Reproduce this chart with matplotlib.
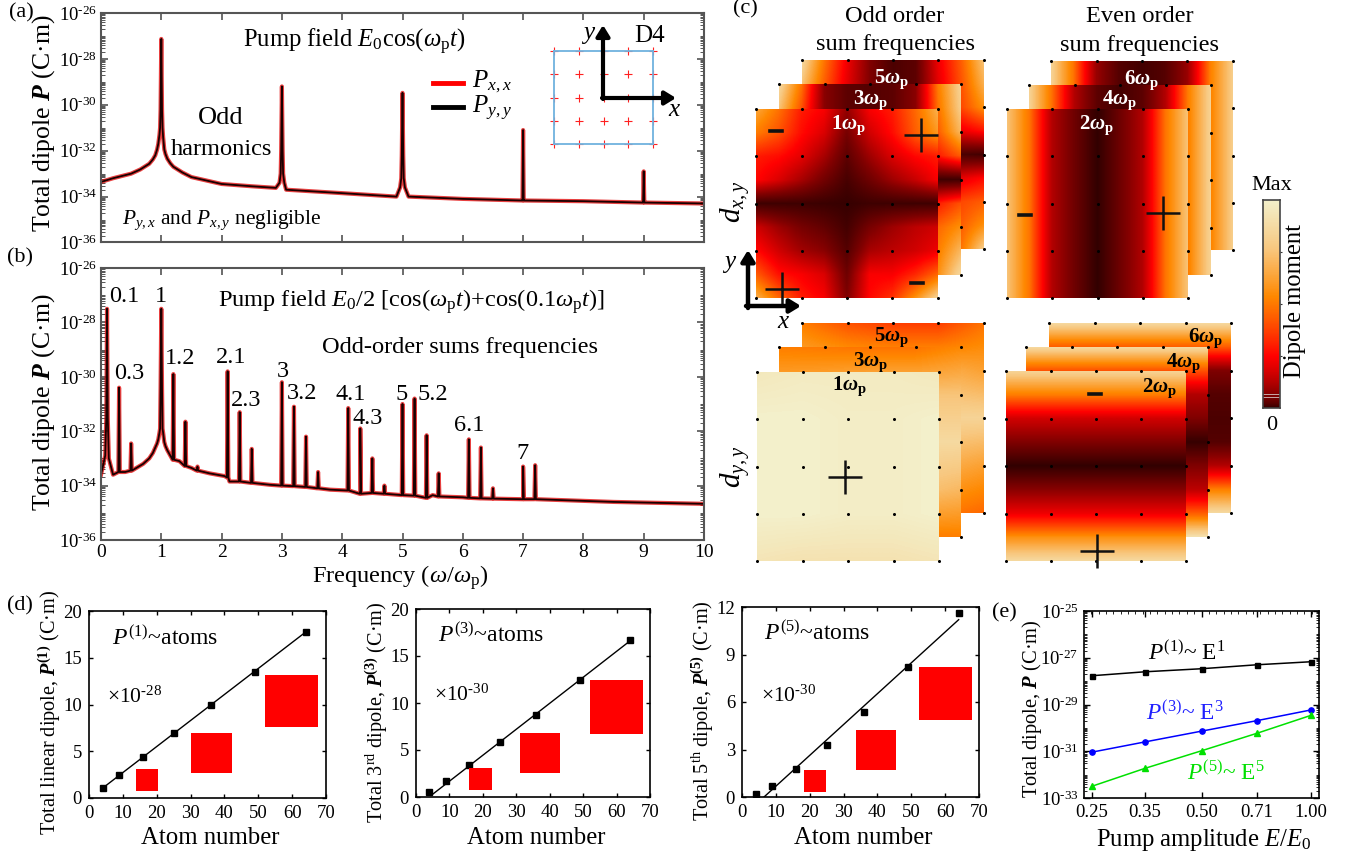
import numpy as np
import matplotlib
matplotlib.use("Agg")
import matplotlib.pyplot as plt
from matplotlib.colors import LinearSegmentedColormap
from matplotlib.patches import Rectangle

plt.rcParams.update({
    'font.family': ['Liberation Serif', 'DejaVu Serif'],
    'mathtext.fontset': 'custom',
    'mathtext.rm': 'Liberation Serif',
    'mathtext.it': 'Liberation Serif:italic',
    'mathtext.bf': 'Liberation Serif:bold',
    'mathtext.bfit': 'Liberation Serif:italic:bold',
    'mathtext.default': 'regular',
})

W, H = 1352, 856

# ---------- panel (a): log10 of the dipole spectrum ----------
a_base_f = [0, .2, .35, .5, .65, .8, .86, .9, .93, .95, .97, .98, 1.02, 1.03, 1.05, 1.07, 1.1, 1.15, 1.2, 1.35, 1.5,
            2, 2.5, 2.9, 2.96, 2.98, 3.02, 3.04, 3.07, 4, 4.9, 4.96, 4.98, 5.02, 5.04, 5.1, 6, 6.99, 7.01, 8, 8.99, 9.01, 10]
a_base_p = [-33.36, -33.2, -33.1, -33.0, -32.82, -32.57, -32.38, -32.2, -31.95, -31.7, -31.3, -31.0, -31.0, -31.4,
            -31.95, -32.15, -32.35, -32.55, -32.7, -32.95, -33.15, -33.45, -33.55, -33.62, -33.4, -33.0, -33.0, -33.4,
            -33.7, -33.85, -34.0, -33.6, -33.2, -33.2, -33.6, -34.0, -34.1, -34.17, -34.17, -34.2, -34.26,
            -34.26, -34.3]
a_peak_f = [1, 3, 5, 7, 9]
a_peak_top = [-27.13, -29.2, -29.48, -31.1, -32.9]
a_peak_foot = [-30.2, -32.0, -32.2, -34.17, -34.26]

# ---------- panel (b) ----------
b_base_f = [0, .03, .07, .13, .2, .4, .7, .8, .86, .9, .93, .95, .97, .98, 1.02, 1.03, 1.05, 1.07, 1.1, 1.3, 1.5, 1.8,
            2.05, 2.13, 2.2, 2.8, 3.8, 4.3, 5.5, 6, 7, 8.5, 10]
b_base_p = [-33.6, -33.3, -32.9, -33.0, -33.6, -33.5, -33.2, -33.0, -32.8, -32.6, -32.45, -32.3, -32.05, -31.9,
            -31.9, -32.05, -32.4, -32.55, -32.7, -33.1, -33.35, -33.55, -33.65, -33.85, -33.85, -33.97, -34.15,
            -34.2, -34.35, -34.43, -34.5, -34.6, -34.67]
b_peak_f = [.1, .3, .5, 1, 1.2, 1.4, 1.6, 2.1, 2.3, 2.5, 3, 3.2, 3.4, 3.6, 4.1, 4.3, 4.5, 4.7, 5, 5.2, 5.4, 5.6,
            6.1, 6.3, 6.5, 7, 7.2]
b_peak_top = [-27.5, -30.4, -32.45, -27.5, -29.9, -31.65, -33.3, -29.8, -31.3, -32.65, -30.2, -31.1, -32.2, -33.5,
              -31.15, -31.9, -33.0, -34.0, -31.0, -30.8, -32.15, -33.55, -32.3, -32.6, -34.1, -33.3, -33.25]
b_peak_foot = [-31.5, -33.5, -33.45, -30.4, -33.05, -33.28, -33.45, -33.7, -33.85, -33.9, -34.0, -34.02, -34.05,
               -34.1, -34.18, -34.3, -34.27, -34.3, -34.35, -34.37, -34.45, -34.4, -34.45, -34.47, -34.48, -34.5, -34.5]
b_peak_labels = ['0.1', '0.3', '1', '1.2', '2.1', '2.3', '3', '3.2', '4.1', '4.3', '5', '5.2', '6.1', '7']
b_label_px = [(124, 296), (129, 373), (161, 297), (180, 358), (231, 357), (246, 400), (283, 371), (302, 393),
              (351, 394), (368, 418), (402, 394), (433, 394), (469, 425), (523, 453)]

# ---------- panels (d) ----------
atoms = [4, 9, 16, 25, 36, 49, 64]
dipole_1 = [1.1, 2.45, 4.4, 6.9, 9.9, 13.5, 17.8]
dipole_3 = [0.5, 1.7, 3.4, 5.8, 8.7, 12.4, 16.7]
dipole_5 = [0.17, 0.7, 1.75, 3.3, 5.4, 8.2, 11.65]
fit_1 = ([4, 64], [1.05, 17.75])
fit_3 = ([5, 64], [0.3, 16.6])
fit_5 = ([6.5, 64], [0, 11.2])
squares_1 = [(13.95, 20.35, .78, 3.13), (30.2, 42.1, 2.7, 6.95), (51.9, 67.5, 7.55, 13.2)]
squares_3 = [(16, 22.6, .75, 3.1), (31, 43, 2.55, 6.8), (52.2, 68, 6.75, 12.4)]
squares_5 = [(18.2, 24.9, .3, 1.69), (33.7, 45.5, 1.69, 4.23), (52.4, 68, 4.86, 8.2)]

# ---------- panel (e) ----------
amp = [0.25, 0.35, 0.50, 0.71, 1.00]
amp_labels = ['0.25', '0.35', '0.50', '0.71', '1.00']
log_e1 = [-27.77, -27.6, -27.47, -27.3, -27.17]
log_e3 = [-31.04, -30.6, -30.14, -29.69, -29.23]
log_e5 = [-32.5, -31.73, -30.98, -30.23, -29.46]

# ---------- panel (c): normalised dipole maps on the atom grid ----------
odd_xy_1 = [[.78, .66, .50, .44, .24, .44, .50, .64, .80],
            [.68, .60, .47, .38, .18, .36, .47, .62, .74],
            [.50, .47, .40, .28, .12, .26, .38, .46, .50],
            [.46, .38, .28, .17, .07, .16, .26, .34, .44],
            [.05, .05, .05, .04, .03, .05, .05, .05, .05],
            [.36, .26, .18, .13, .06, .18, .26, .32, .36],
            [.47, .36, .27, .22, .10, .28, .32, .36, .42],
            [.62, .48, .44, .38, .16, .44, .44, .52, .64],
            [.80, .64, .50, .44, .20, .46, .54, .72, .90]]
odd_xy_3 = [[.92, .66, .22, .12, .10, .12, .22, .68, .90],
            [.85, .60, .22, .12, .10, .12, .22, .66, .88],
            [.70, .50, .20, .12, .10, .12, .25, .62, .82],
            [.50, .35, .20, .10, .08, .12, .25, .50, .62],
            [.10, .10, .08, .06, .05, .05, .05, .05, .05],
            [.50, .35, .20, .10, .08, .15, .28, .50, .60],
            [.70, .50, .25, .15, .10, .20, .35, .64, .72],
            [.85, .60, .35, .20, .10, .25, .42, .68, .82],
            [.92, .70, .40, .20, .10, .30, .50, .72, .92]]
odd_xy_5 = [[.92, .66, .42, .20, .08, .12, .42, .62, .85],
            [.85, .62, .40, .20, .08, .12, .40, .60, .80],
            [.70, .55, .35, .15, .08, .12, .32, .58, .72],
            [.50, .40, .20, .10, .08, .10, .20, .42, .48],
            [.10, .08, .06, .05, .04, .05, .06, .08, .06],
            [.50, .40, .20, .10, .08, .10, .22, .40, .46],
            [.70, .55, .35, .20, .10, .15, .32, .58, .62],
            [.82, .62, .40, .20, .10, .20, .42, .62, .72],
            [.92, .66, .42, .20, .10, .20, .42, .66, .88]]
even_xy_2 = [.85, .66, .30, .16, .02, .16, .30, .66, .85]
even_xy_4 = [.90, .66, .30, .12, .06, .12, .30, .68, .90]
even_xy_6 = [.90, .66, .25, .10, .06, .10, .25, .68, .88]
odd_yy_1 = [[.97, .98, .98, .98, .97], [1, 1, .99, .99, 1], [1, 1, .99, .99, 1],
            [1, 1, .99, .99, 1], [.96, .95, .95, .95, .96]]
odd_yy_3 = [[.68, .67, .66, .66, .70], [.80, .82, .85, .85, .85], [.90, .92, .92, .92, .92],
            [.80, .82, .85, .85, .82], [.66, .66, .68, .68, .68]]
odd_yy_5 = [[.68, .60, .56, .56, .66], [.80, .80, .80, .80, .76], [.90, .90, .90, .90, .90],
            [.80, .80, .80, .80, .76], [.66, .66, .68, .68, .64]]
even_yy_2 = [.90, .68, .36, .20, .02, .22, .42, .72, .92]
even_yy_4 = [.92, .60, .30, .20, .03, .20, .32, .62, .95]
even_yy_6 = [.92, .62, .20, .10, .08, .10, .30, .68, .92]

cmap = LinearSegmentedColormap.from_list('dipole', [
    (0, '#2a0000'), (.2, '#800000'), (.45, '#ff0000'), (.7, '#ff8800'), (.86, '#f8c880'), (1, '#f3f0cb')])

fig = plt.figure(figsize=(W / 100, H / 100), dpi=100)


def axpx(l, t, r, b, **kw):
    return fig.add_axes([l / W, 1 - b / H, (r - l) / W, (b - t) / H], **kw)


ov = axpx(0, 0, W, H)
ov.set_xlim(0, W)
ov.set_ylim(H, 0)
ov.axis('off')
ov.set_zorder(100)
ov.patch.set_alpha(0)


def T(x, y, s, size=16, ha='center', va='center', **kw):
    return ov.text(x, y, s, fontsize=size, ha=ha, va=va, **kw)


def sup10(e):
    return '10$^{\\text{-}%d}$' % e


def spectrum(base_f, base_p, pf, ptop, pfoot, delta=.012):
    pts = list(zip(base_f, base_p))
    for f, t, ft in zip(pf, ptop, pfoot):
        pts += [(f - delta, ft), (f, t), (f + delta, ft)]
    pts.sort()
    return [p[0] for p in pts], 10.0 ** np.array([p[1] for p in pts])


def style_spec(ax):
    ax.set_yscale('log')
    ax.set_xlim(0, 10)
    ax.set_ylim(1e-36, 1e-26)
    ax.set_xticks(range(11))
    ex = np.arange(-36, -25, 2)
    ax.set_yticks(10.0 ** ex)
    ax.set_yticklabels([sup10(-e) for e in ex], fontsize=13.5)
    mt = [s * 10.0 ** k for k in range(-36, -26) for s in range(2, 10)] + [10.0 ** k for k in range(-35, -26, 2)]
    ax.set_yticks(mt, minor=True)
    ax.set_yticklabels([], minor=True)
    ax.tick_params(which='major', direction='in', top=True, right=True, length=5, width=1.1, color='#444444', pad=3)
    ax.tick_params(which='minor', direction='in', right=True, length=3, width=.7, color='#555555')
    ax.tick_params(axis='x', labelsize=14)
    for s in ax.spines.values():
        s.set_linewidth(1.5)
        s.set_color('#555555')


axa = axpx(101, 13, 704, 242.5)
fa, pa = spectrum(a_base_f, a_base_p, a_peak_f, a_peak_top, a_peak_foot)
axa.plot(fa, pa, color='#e00000', lw=3.0, alpha=.75)
axa.plot(fa, pa, color='#1a0000', lw=1.3)
style_spec(axa)
axa.set_xticklabels([])

axb = axpx(101, 268, 704, 540)
fb, pb = spectrum(b_base_f, b_base_p, b_peak_f, b_peak_top, b_peak_foot)
axb.plot(fb, pb, color='#e00000', lw=3.0, alpha=.75)
axb.plot(fb, pb, color='#1a0000', lw=1.3)
style_spec(axb)

# inset of panel (a)
ins = axpx(554, 51, 653, 144)
ins.set_zorder(5)
gx, gy = np.meshgrid(np.arange(5), np.arange(5))
ins.plot(gx.ravel(), gy.ravel(), '+', color='#ff2020', ms=6, mew=.8, clip_on=False)
ins.set_xlim(0, 4)
ins.set_ylim(0, 4)
ins.set_xticks([])
ins.set_yticks([])
for s in ins.spines.values():
    s.set_color('#6fb2de')
    s.set_linewidth(1.3)

arrow = dict(arrowstyle='-|>,head_width=.4,head_length=.65', color='black', lw=3, shrinkA=0, shrinkB=0)
ov.annotate('', xy=(603, 25), xytext=(603, 99), arrowprops=arrow)
ov.annotate('', xy=(676, 98), xytext=(602, 98), arrowprops=arrow)
T(589, 33, 'y', 18, style='italic')
T(674, 110, 'x', 18, style='italic')
T(650, 36, 'D4', 18)

ov.plot([433, 463], [83, 83], color='#ff0000', lw=3.5)
ov.plot([433, 463], [107, 107], color='black', lw=3.5)
T(472, 82, '$\\mathit{P}_{\\mathit{x,x}}$', 18, ha='left')
T(472, 108, '$\\mathit{P}_{\\mathit{y,y}}$', 18, ha='left')

T(21, 13, '(a)', 16)
T(20, 258, '(b)', 16)
T(745, 9, '(c)', 16)
T(20, 606, '(d)', 16)
T(1004, 613, '(e)', 16)

ylab = 'Total dipole $\\mathbfit{P}$ (C·m)'
T(44, 123, ylab, 18.5, rotation=90)
T(44, 402, ylab, 18.5, rotation=90)
T(354, 42, 'Pump field $\\mathit{E}_{0}$cos($\\mathit{\\omega}_{p}\\mathit{t}$)', 17.7)
T(221, 118, 'Odd', 19)
T(221, 149, 'harmonics', 17.6)
T(222, 220, '$\\mathit{P}_{\\mathit{y,x}}$ and $\\mathit{P}_{\\mathit{x,y}}$ negligible', 15.4)
T(411, 302, 'Pump field $\\mathit{E}_{0}$/2 [cos($\\mathit{\\omega}_{p}\\mathit{t}$)+cos(0.1$\\mathit{\\omega}_{p}\\mathit{t}$)]', 17.6)
T(460, 347, 'Odd-order sums frequencies', 17.6)
for lab, (x, y) in zip(b_peak_labels, b_label_px):
    T(x, y, lab, 17.5)
T(400, 578, 'Frequency ($\\mathit{\\omega}$/$\\mathit{\\omega}_{p}$)', 17.6)


# ---------- heat maps ----------
def heat(box, values, z):
    arr = np.array(values, dtype=float)
    if arr.ndim == 1:
        arr = np.tile(arr, (9, 1)) if box[4] == 'x' else np.tile(arr[:, None], (1, 9))
    ax = axpx(box[0], box[1], box[2], box[3])
    ax.set_zorder(z)
    r, c = arr.shape
    ax.imshow(arr, cmap=cmap, vmin=0, vmax=1, interpolation='bilinear', aspect='auto',
              extent=[-.5 / (c - 1), 1 + .5 / (c - 1), 1 + .5 / (r - 1), -.5 / (r - 1)])
    ax.set_xlim(0, 1)
    ax.set_ylim(1, 0)
    ax.axis('off')
    dx, dy = np.meshgrid(np.linspace(0, 1, 5), np.linspace(0, 1, 5))
    ax.plot(dx.ravel(), dy.ravel(), 'o', color='black', ms=2.2, mew=0, clip_on=False)
    return ax


heat((802, 60, 984, 249, 'x'), odd_xy_5, 1)
heat((779, 84, 961, 275, 'x'), odd_xy_3, 2)
heat((756, 109, 938, 298, 'x'), odd_xy_1, 3)
heat((1051, 61, 1233, 250, 'x'), even_xy_6, 1)
heat((1029, 85, 1211, 275, 'x'), even_xy_4, 2)
heat((1007, 109, 1188, 298, 'x'), even_xy_2, 3)
heat((802, 323, 984, 513, 'x'), odd_yy_5, 1)
heat((779, 347, 961, 537, 'x'), odd_yy_3, 2)
heat((757, 372, 939, 561, 'x'), odd_yy_1, 3)
heat((1049, 323, 1231, 513, 'y'), even_yy_6, 1)
heat((1026, 347, 1208, 537, 'y'), even_yy_4, 2)
heat((1006, 371, 1186, 561, 'y'), even_yy_2, 3)

T(895, 16, 'Odd order', 17.6)
T(895, 44, 'sum frequencies', 17.5)
T(1140, 16, 'Even order', 17.6)
T(1140, 45, 'sum frequencies', 17.5)

for x, y, s, c in [(892, 79, '5', 'white'), (871, 100, '3', 'white'), (849, 125, '1', 'white'),
                   (1142, 80, '6', 'white'), (1120, 100, '4', 'white'), (1097, 125, '2', 'white'),
                   (892, 337, '5', 'black'), (871, 362, '3', 'black'), (850, 386, '1', 'black'),
                   (1206, 338, '6', 'black'), (1184, 363, '4', 'black'), (1160, 388, '2', 'black')]:
    T(x, y, '$\\mathbf{%s}\\mathbfit{\\omega}_{\\mathbf{p}}$' % s, 15, color=c)

for x, y in [(921, 135), (782, 289), (1163, 213), (845, 477), (1097, 551)]:
    ov.plot([x], [y], '+', color='#111111', ms=25, mew=1.8)
for x, y in [(776, 131), (917, 283), (1025, 215), (1095, 394)]:
    ov.plot([x - 6, x + 6], [y, y], color='#111111', lw=2.6)

T(735, 202, '$\\mathit{d}_{\\mathit{x,y}}$', 21, rotation=90)
T(735, 467, '$\\mathit{d}_{\\mathit{y,y}}$', 21, rotation=90)
arrow2 = dict(arrowstyle='-|>,head_width=.4,head_length=.65', color='black', lw=3.2, shrinkA=0, shrinkB=0)
ov.annotate('', xy=(748, 250), xytext=(748, 308), arrowprops=arrow2)
ov.annotate('', xy=(801, 306), xytext=(746, 306), arrowprops=arrow2)
T(730, 262, 'y', 18, style='italic')
T(783, 322, 'x', 18, style='italic')

cax = axpx(1263, 200, 1280, 408)
cax.set_zorder(4)
grad = np.linspace(1, 0, 256)[:, None]
cax.imshow(grad ** .57, cmap=cmap, vmin=0, vmax=1, aspect='auto', extent=[0, 1, 0, 1])
cax.plot([0, 1], [.067, .067], color='#c8a8a8', lw=.7)
cax.plot([0, 1], [.053, .053], color='#c8a8a8', lw=.7)
cax.set_xlim(0, 1)
cax.set_ylim(0, 1)
cax.set_xticks([])
cax.set_yticks([.25, .5, .75])
cax.set_yticklabels([])
cax.tick_params(axis='y', direction='out', left=False, right=True, length=1.5, color='#333333')
for s in cax.spines.values():
    s.set_color('#444444')
    s.set_linewidth(1.2)
T(1272, 185, 'Max', 16)
T(1272, 425, '0', 16)
T(1295, 301, 'Dipole moment', 17.7, rotation=90)


# ---------- panels (d) ----------
def dpanel(box, yv, fit, squares, ymax, ystep, xc, ylabel, ylx, yly, ptxt, ppos, mag, mpos):
    ax = axpx(*box)
    ax.plot(fit[0], fit[1], color='black', lw=1.0)
    ax.plot(atoms, yv, 's', color='black', ms=4.2)
    for x0, x1, y0, y1 in squares:
        ax.add_patch(Rectangle((x0, y0), x1 - x0, y1 - y0, color='#ff0000', lw=0, zorder=3))
    ax.set_xlim(0, 70)
    ax.set_ylim(0, ymax)
    ax.set_xticks(range(0, 71, 10))
    ax.set_yticks(np.arange(0, ymax + .1, ystep))
    ax.tick_params(direction='in', top=True, right=True, length=3, width=1, labelsize=13.5, pad=5)
    for s in ax.spines.values():
        s.set_linewidth(1.2)
    T(ylx, yly, ylabel, 14.6, rotation=90)
    T(ppos[0], ppos[1], ptxt, 17, ha='left')
    T(mpos[0], mpos[1], mag, 15.5, ha='left')
    T(xc, 838, 'Atom number', 17.8)


dpanel((89, 611, 326, 798), dipole_1, fit_1, squares_1, 20, 5, 210,
       'Total linear dipole, $\\mathbfit{P}^{\\mathbf{(1)}}$ (C·m)', 50, 713,
       '$\\mathit{P}^{(1)}$~atoms', (112, 638), '×10$^{\\text{-}28}$', (107, 697))
dpanel((416, 609, 650, 797), dipole_3, fit_3, squares_3, 20, 5, 536,
       'Total 3$^{rd}$ dipole, $\\mathbfit{P}^{\\mathbf{(3)}}$ (C·m)', 377, 712,
       '$\\mathit{P}^{(3)}$~atoms', (438, 635), '×10$^{\\text{-}30}$', (434, 695))
dpanel((742, 607, 979, 797), dipole_5, fit_5, squares_5, 12, 3, 863,
       'Total 5$^{th}$ dipole, $\\mathbfit{P}^{\\mathbf{(5)}}$ (C·m)', 703, 711,
       '$\\mathit{P}^{(5)}$~atoms', (764, 633), '×10$^{\\text{-}30}$', (761, 696))

# ---------- panel (e) ----------
axe = axpx(1084, 611, 1319, 798)
axe.set_xscale('log')
axe.set_yscale('log')
axe.plot(amp, 10.0 ** np.array(log_e1), '-s', color='black', lw=1.1, ms=3.6)
axe.plot(amp, 10.0 ** np.array(log_e3), '-o', color='#0000ff', lw=1.1, ms=3.8)
axe.plot(amp, 10.0 ** np.array(log_e5), '-^', color='#00e000', lw=1.1, ms=3.8)
axe.set_xlim(.238, 1.05)
axe.set_ylim(1e-33, 1e-25)
axe.set_xticks(amp)
axe.set_xticklabels(amp_labels, fontsize=13.5)
axe.set_xticks(.238 * (1.05 / .238) ** (np.arange(1, 32) / 32), minor=True)
axe.set_xticklabels([], minor=True)
ee = [-33, -31, -29, -27, -25]
axe.set_yticks([10.0 ** e for e in ee])
axe.set_yticklabels([sup10(-e) for e in ee], fontsize=13.5)
axe.set_yticks([s * 10.0 ** k for k in range(-33, -25) for s in range(2, 10)] + [1e-32, 1e-30, 1e-28, 1e-26], minor=True)
axe.set_yticklabels([], minor=True)
axe.tick_params(which='major', direction='in', top=True, right=True, length=4, width=1, pad=4)
axe.tick_params(axis='x', which='minor', direction='in', top=True, bottom=False, length=2, width=.6)
axe.tick_params(axis='y', which='minor', direction='in', right=True, length=2, width=.6)
for s in axe.spines.values():
    s.set_linewidth(1.2)
T(1032, 709, 'Total dipole, $\\mathbfit{P}$ (C·m)', 14.8, rotation=90)
T(1148, 653, '$\\mathit{P}^{(1)}$~ E$^{1}$', 16.8, ha='left')
T(1146, 713, '$\\mathit{P}^{(3)}$~ E$^{3}$', 16.8, ha='left', color='#2020ff')
T(1187, 773, '$\\mathit{P}^{(5)}$~ E$^{5}$', 16.8, ha='left', color='#00e000')
T(1204, 840, 'Pump amplitude $\\mathit{E}$/$\\mathit{E}_{0}$', 17.7)

fig.savefig('out.png', dpi=100)
